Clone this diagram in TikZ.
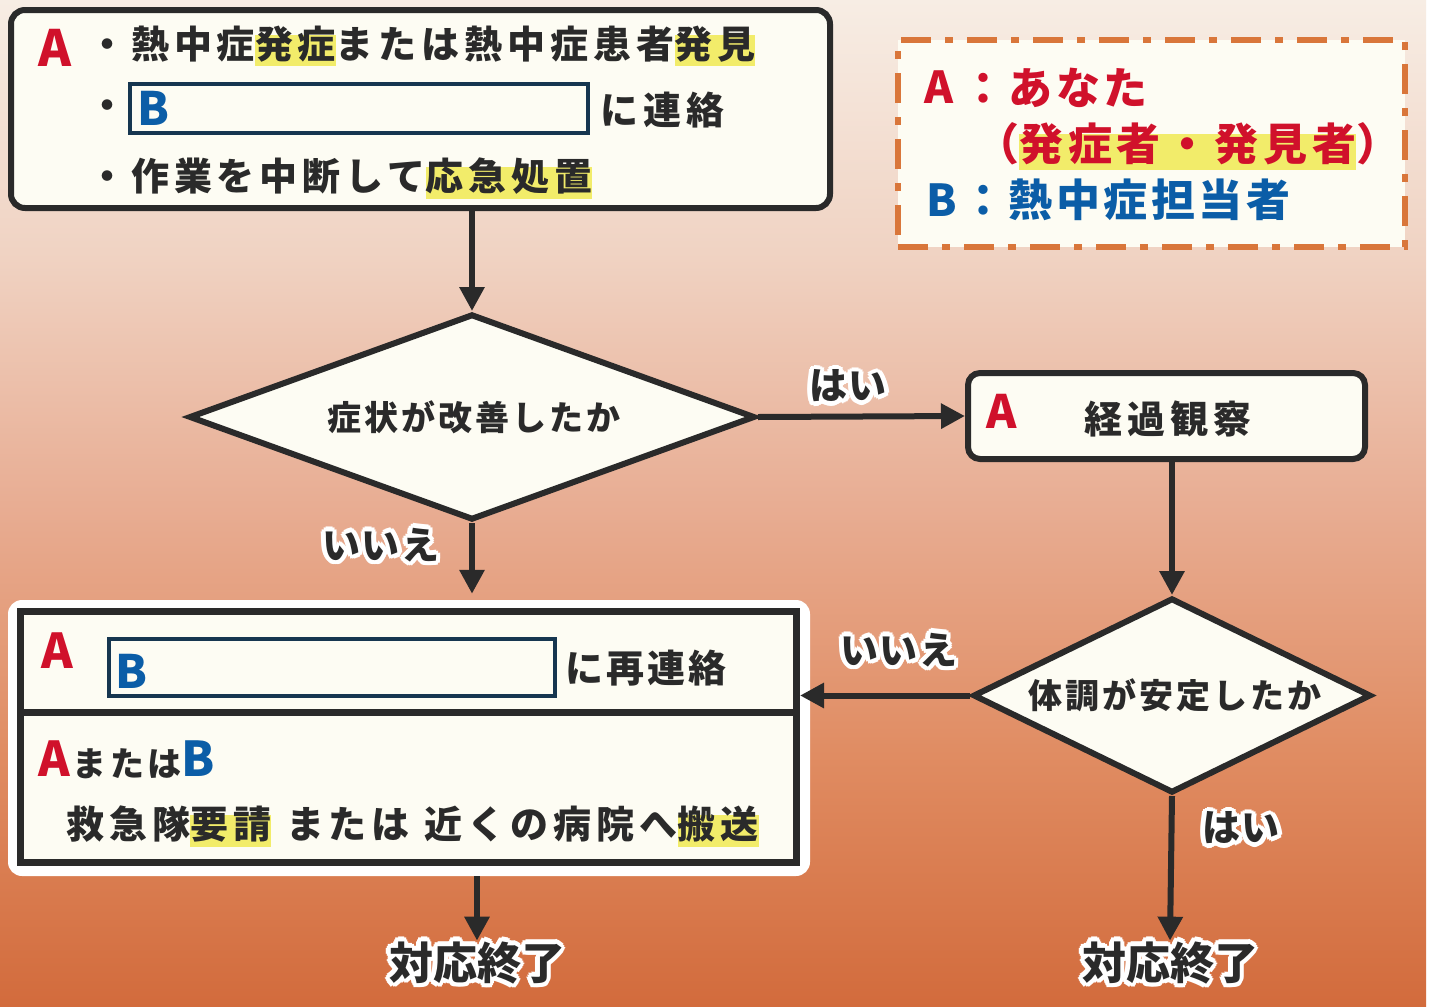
\documentclass[tikz,border=0pt]{standalone}
\usepackage{fontspec}
\newfontfamily\jp{Noto Sans CJK JP}
\usetikzlibrary{shapes.geometric,arrows.meta,calc}
\definecolor{ink}{HTML}{2A2A2A}
\definecolor{redA}{HTML}{D0112B}
\definecolor{blueB}{HTML}{0B5DA7}
\definecolor{navy}{HTML}{163650}
\definecolor{cream}{HTML}{FDFCF3}
\definecolor{hly}{HTML}{F2EC6A}
\definecolor{dashc}{HTML}{D9763A}
\definecolor{bgA}{HTML}{F7EDE4}
\definecolor{bgB}{HTML}{F0D3C3}
\definecolor{bgC}{HTML}{E8AD93}
\definecolor{bgD}{HTML}{E08C62}
\definecolor{bgE}{HTML}{D26B3C}
\pgfdeclareverticalshading{bgshade}{100bp}{color(0bp)=(bgE); color(25bp)=(bgE); color(37.5bp)=(bgD); color(50bp)=(bgC); color(62.5bp)=(bgB); color(75bp)=(bgA); color(100bp)=(bgA)}
\newcommand\hlt[1]{\sbox0{#1}\makebox[0pt][l]{\color{hly}\rule[-0.22em]{\wd0}{0.82em}}\usebox0}
\newcommand\halo[4][]{%
  \foreach \ang in {0,30,...,330}{\node[lbl,#1,text=white] at ($(#3)+(\ang:4.5)$) {#4};}
  \node[lbl,#1] (#2) at (#3) {#4};}
\begin{document}
\begin{tikzpicture}[x=1pt,y=-1pt,
  box/.style={draw=ink, line width=6pt, fill=cream, rounded corners=14pt, inner sep=0pt},
  dmd/.style={diamond, draw=ink, line width=6pt, fill=cream, inner sep=0pt},
  arr/.style={draw=ink, line width=6pt, -{Triangle[length=24pt,width=24pt]}},
  txt/.style={inner sep=0pt, text=ink, font=\jp\bfseries\fontsize{38}{40}\selectfont\addfontfeature{LetterSpace=13}},
  txtz/.style 2 args={inner sep=0pt, text=ink, font=\jp\bfseries\fontsize{#1}{#1}\selectfont\addfontfeature{LetterSpace=#2}},
  lbl/.style={inner sep=1pt, text=ink, font=\jp\bfseries\fontsize{38}{40}\selectfont\addfontfeature{LetterSpace=4}},
]
\useasboundingbox (0,0) rectangle (1433,1007);
\fill[white] (0,0) rectangle (1433,1007);
\shade[shading=bgshade] (0,0) rectangle (1426,1007);

% top box
\node[box, minimum width=819pt, minimum height=198pt] (top) at (420.5,109) {};
\node[draw=navy, line width=4pt, fill=cream, minimum width=458pt, minimum height=49pt, inner sep=0pt] (bb1) at (359,108.5) {};
\node[txtz={50}{0}, text=redA] (tA) at (55,48) {A};
\node[txt, anchor=west] (t1) at (88,46) {・熱中症\hlt{発症}または熱中症患者\hlt{発見}};
\node[txt, anchor=west] (t2d) at (88,110) {・};
\node[txtz={46}{0}, text=blueB] (tB) at (153,108) {B};
\node[txt, anchor=west] (t2) at (600,110) {に連絡};
\node[txt, anchor=west] (t3) at (88,178) {・作業を中断して\hlt{応急処置}};

% legend
\node[draw=dashc, line width=6pt, dash pattern=on 30pt off 14pt on 8pt off 14pt, fill=cream, minimum width=507pt, minimum height=207pt, inner sep=0pt] (leg) at (1151.5,143.5) {};
\node[txtz={44}{0}, text=redA, anchor=west] (lA) at (924,87) {A};
\node[txtz={44}{8}, text=redA, anchor=west] (l1) at (961,88) {：あなた};
\node[txtz={44}{11}, text=redA, anchor=west] (l2) at (975,146) {（\hlt{発症者・発見者}）};
\node[txtz={44}{0}, text=blueB, anchor=west] (lB) at (926,200) {B};
\node[txtz={44}{8}, text=blueB, anchor=west] (l3) at (961,200) {：熱中症担当者};

% diamond 1
\node[dmd, minimum width=566pt, minimum height=206pt] (d1) at (472,417) {};
\node[txtz={34}{9}] (d1t) at (474,417) {症状が改善したか};

% box 2
\node[box, rounded corners=12pt, minimum width=397pt, minimum height=86pt] (b2) at (1166.5,416) {};
\node[txtz={46}{0}, text=redA] (b2A) at (1002,411) {A};
\node[txt] (b2t) at (1168,419) {経過観察};

% diamond 2
\node[dmd, minimum width=398pt, minimum height=195pt] (d2) at (1172,695.5) {};
\node[txtz={34}{9}] (d2t) at (1175,695) {体調が安定したか};

% box 3
\node[fill=white, rounded corners=14pt, minimum width=802pt, minimum height=276pt, inner sep=0pt] (b3o) at (409,738) {};
\node[draw=ink, line width=7pt, fill=cream, minimum width=776pt, minimum height=251pt, inner sep=0pt] (b3) at (408.5,737) {};
\coordinate (divl) at (20.5,712);
\coordinate (divr) at (796.5,712);
\draw[ink, line width=7pt] (divl) -- (divr);
\node[draw=navy, line width=4pt, fill=cream, minimum width=446pt, minimum height=57pt, inner sep=0pt] (bb2) at (332,667.5) {};
\node[txtz={48}{0}, text=redA] (b3A) at (57,651) {A};
\node[txtz={46}{0}, text=blueB] (b3B) at (131,671) {B};
\node[txtz={38}{8}, anchor=west] (b3t1) at (565,668) {に再連絡};
\node[txtz={34}{10}, anchor=base west] (b3t2) at (38,776) {{\color{redA}\fontsize{48}{48}\selectfont A}\hspace{3pt}または{\color{blueB}\fontsize{48}{48}\selectfont B}};
\node[txtz={38}{13}, anchor=west] (b3t3) at (66,826) {救急隊\hlt{要請}\hspace{15pt}または\hspace{15pt}近くの病院へ\hlt{搬送}};

% labels
\halo{yes1}{848,386}{はい}
\halo{no1}{381,545}{いいえ}
\halo{no2}{899,650}{いいえ}
\halo{yes2}{1241,828}{はい}
\halo[font=\jp\bfseries\fontsize{44}{44}\selectfont]{end1}{477,963}{対応終了}
\halo[font=\jp\bfseries\fontsize{44}{44}\selectfont]{end2}{1170,963}{対応終了}

% connectors
\draw[arr] (d1.north |- top.south) -- (d1.north);
\draw[arr] (d1.east) -- (b2.west);
\draw[arr, shorten >=6pt] (d1.south) -- (d1.south |- b3o.north);
\draw[arr] (d2.north |- b2.south) -- (d2.north);
\draw[arr] (d2.west) -- (d2.west -| b3.east);
\draw[arr] (d2.south) -- (end2.north);
\draw[arr] (end1.north |- b3o.south) -- (end1.north);
\end{tikzpicture}
\end{document}
